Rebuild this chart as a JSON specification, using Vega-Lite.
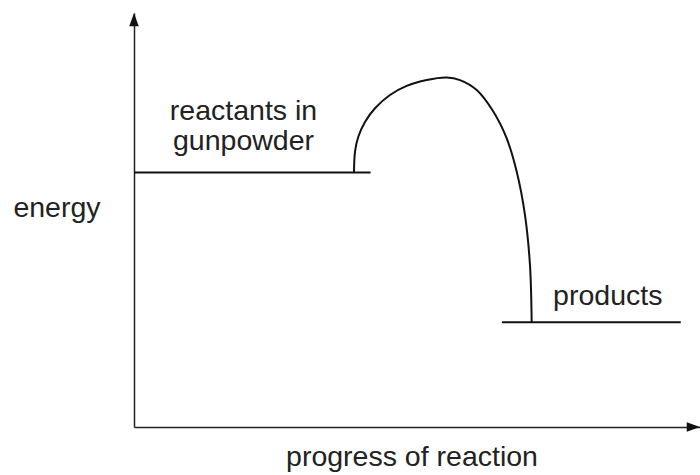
{
  "$schema": "https://vega.github.io/schema/vega-lite/v6.json",
  "width": 566,
  "height": 414,
  "autosize": {"type": "none"},
  "padding": {"left": 134, "top": 13, "right": 0, "bottom": 48},
  "background": "white",
  "config": {"view": {"stroke": null}},
  "datasets": {
    "levels": [
      {"x": 0, "xe": 41.8, "y": 61.5, "state": "reactants"},
      {"x": 65.0, "xe": 96.6, "y": 25.3, "state": "products"}
    ],
    "path": [
      {"x": 38.87, "y": 61.5},
      {"x": 39.05, "y": 66.5},
      {"x": 39.63, "y": 70.1},
      {"x": 40.81, "y": 73.7},
      {"x": 42.58, "y": 77.0},
      {"x": 45.23, "y": 80.2},
      {"x": 48.18, "y": 82.4},
      {"x": 51.71, "y": 83.8},
      {"x": 55.25, "y": 84.4},
      {"x": 57.6, "y": 83.8},
      {"x": 60.55, "y": 81.4},
      {"x": 63.48, "y": 76.2},
      {"x": 65.85, "y": 69.7},
      {"x": 67.61, "y": 61.7},
      {"x": 69.08, "y": 51.2},
      {"x": 69.96, "y": 39.1},
      {"x": 70.26, "y": 25.3}
    ],
    "yarrow": [{"x": 0, "y": 100}],
    "xarrow": [{"x": 100, "y": 0}],
    "labels": [
      {"x": 19.35, "y": 74.2, "text": "reactants in"},
      {"x": 19.35, "y": 66.9, "text": "gunpowder"},
      {"x": 83.7, "y": 29.5, "text": "products"}
    ]
  },
  "encoding": {
    "x": {
      "field": "x", "type": "quantitative",
      "scale": {"domain": [0, 100], "nice": false, "zero": false},
      "axis": {
        "title": "progress of reaction", "ticks": false, "labels": false, "grid": false,
        "domainColor": "#222", "domainWidth": 1.5,
        "titleFont": "Liberation Sans", "titleFontSize": 28.5, "titleFontWeight": "normal", "titleColor": "#222",
        "titleAngle": 0, "titleX": 277.5, "titleY": 38, "titleBaseline": "alphabetic", "titleAlign": "center", "titlePadding": 0
      }
    },
    "y": {
      "field": "y", "type": "quantitative",
      "scale": {"domain": [0, 100], "nice": false, "zero": false},
      "axis": {
        "title": "energy", "ticks": false, "labels": false, "grid": false,
        "domainColor": "#222", "domainWidth": 1.5,
        "titleFont": "Liberation Sans", "titleFontSize": 28.5, "titleFontWeight": "normal", "titleColor": "#222",
        "titleAngle": 0, "titleX": -77.5, "titleY": 203.7, "titleBaseline": "alphabetic", "titleAlign": "center", "titlePadding": 0
      }
    }
  },
  "layer": [
    {
      "data": {"name": "levels"},
      "mark": {"type": "rule", "color": "#111", "strokeWidth": 2},
      "encoding": {"x2": {"field": "xe"}}
    },
    {
      "data": {"name": "path"},
      "mark": {"type": "line", "color": "#111", "strokeWidth": 2, "interpolate": "catmull-rom"}
    },
    {
      "data": {"name": "yarrow"},
      "mark": {"type": "point", "shape": "M0,0L-0.36,1L0.36,1Z", "filled": true, "size": 700, "color": "#111", "opacity": 1}
    },
    {
      "data": {"name": "xarrow"},
      "mark": {"type": "point", "shape": "M0,0L-1,-0.36L-1,0.36Z", "filled": true, "size": 700, "color": "#111", "opacity": 1}
    },
    {
      "data": {"name": "labels"},
      "mark": {"type": "text", "font": "Liberation Sans", "fontSize": 28.5, "color": "#222", "align": "center", "baseline": "alphabetic"},
      "encoding": {"text": {"field": "text"}}
    }
  ]
}
